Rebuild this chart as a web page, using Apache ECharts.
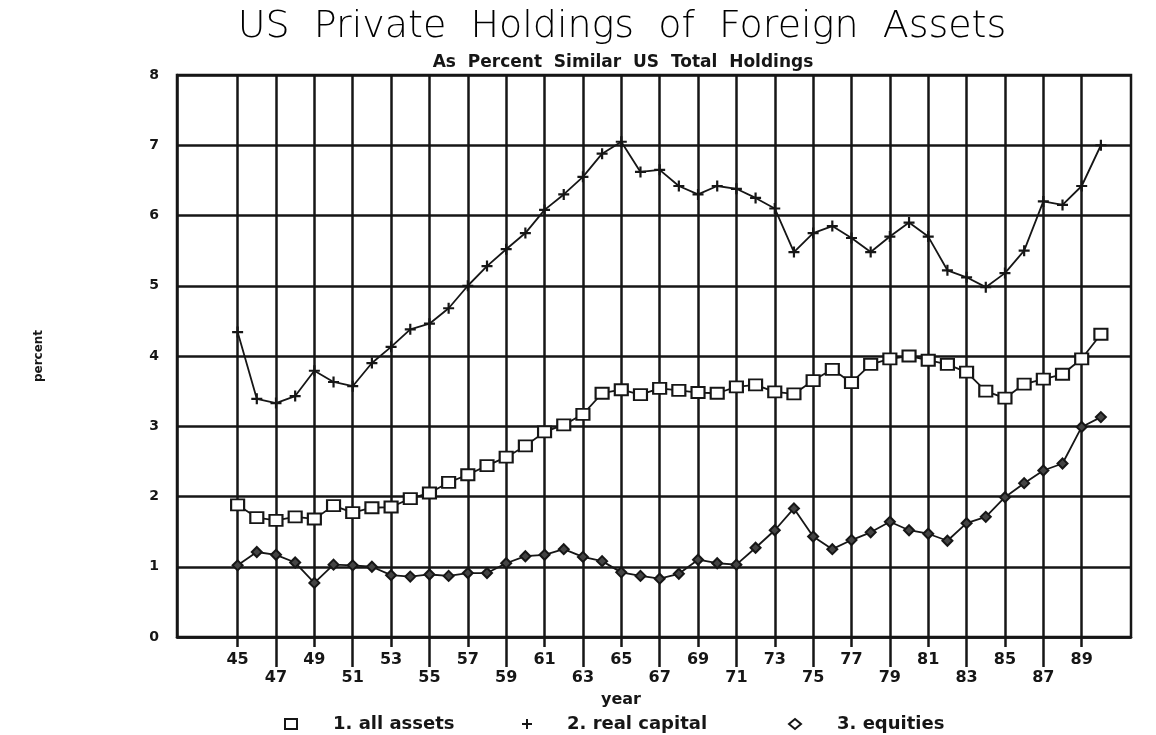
<!DOCTYPE html>
<html lang="en">
<head>
    <meta charset="UTF-8">
    <title>US Private Holdings of Foreign Assets</title>
    <script src="https://cdn.jsdelivr.net/npm/echarts@6/dist/echarts.min.js"></script>
    <style>
        html, body { margin: 0; padding: 0; background: #fff; }
    </style>
</head>
<body>
<div id="main" style="width: 1156px;height:735px;"></div>

<script type="text/javascript">
    // years 1945 .. 1990 (two digits, as on the chart)
    var years = [45, 46, 47, 48, 49, 50, 51, 52, 53, 54, 55, 56, 57, 58, 59,
        60, 61, 62, 63, 64, 65, 66, 67, 68, 69, 70, 71, 72, 73, 74, 75, 76, 77,
        78, 79, 80, 81, 82, 83, 84, 85, 86, 87, 88, 89, 90];

    var allAssets = [1.88, 1.70, 1.66, 1.71, 1.68, 1.87, 1.77, 1.84, 1.85, 1.97,
        2.05, 2.20, 2.31, 2.44, 2.56, 2.72, 2.92, 3.02, 3.17, 3.47, 3.52, 3.45,
        3.54, 3.51, 3.48, 3.47, 3.56, 3.59, 3.49, 3.46, 3.65, 3.81, 3.62, 3.88,
        3.96, 4.00, 3.94, 3.88, 3.77, 3.50, 3.40, 3.60, 3.67, 3.74, 3.96, 4.31];

    var realCapital = [4.34, 3.39, 3.33, 3.43, 3.79, 3.63, 3.57, 3.90, 4.13, 4.38,
        4.46, 4.68, 5.00, 5.28, 5.52, 5.75, 6.08, 6.30, 6.55, 6.88, 7.05, 6.62,
        6.65, 6.42, 6.30, 6.42, 6.38, 6.25, 6.10, 5.48, 5.75, 5.85, 5.68, 5.48,
        5.70, 5.90, 5.70, 5.22, 5.12, 4.98, 5.18, 5.50, 6.20, 6.15, 6.42, 7.00];

    var equities = [1.02, 1.21, 1.17, 1.06, 0.77, 1.03, 1.02, 1.00, 0.88, 0.86,
        0.89, 0.87, 0.91, 0.91, 1.05, 1.15, 1.17, 1.25, 1.14, 1.08, 0.92, 0.87,
        0.83, 0.90, 1.10, 1.05, 1.03, 1.27, 1.52, 1.83, 1.43, 1.25, 1.38, 1.49,
        1.64, 1.52, 1.47, 1.37, 1.62, 1.71, 1.99, 2.19, 2.37, 2.47, 2.99, 3.13];

    // tick labels on the year axis (upper row and lower row alternate)
    var yearTicks = [45, 47, 49, 51, 53, 55, 57, 59, 61, 63, 65, 67, 69, 71, 73,
        75, 77, 79, 81, 83, 85, 87, 89];
    var lowerRowTicks = [47, 51, 55, 59, 63, 67, 71, 75, 79, 83, 87];

    var seriesNames = ['1. all assets', '2. real capital', '3. equities'];

    function pairs(vals) {
        var out = [];
        for (var i = 0; i < years.length; i++) out.push([years[i], vals[i]]);
        return out;
    }

    var ink = '#161616';
    var font = 'DejaVu Sans';
    var plusPath = 'path://M4,0h2v4h4v2h-4v4h-2v-4h-4v-2h4z';

    // one legend per entry so each sits where the original put it
    function legendItem(item, left, gap) {
        return {
            data: [item], left: left, top: 715, padding: 0,
            itemWidth: 12, itemHeight: 10,
            formatter: function (name) { return '{g|}' + name; },
            textStyle: {fontFamily: font, fontSize: 18, fontWeight: 'bold', color: ink,
                rich: {g: {width: gap}}}
        };
    }

    var myChart = echarts.init(document.getElementById('main'));
    var option = {
        backgroundColor: '#fff',
        animation: false,
        title: [
            {
                text: 'US  Private  Holdings  of  Foreign  Assets',
                left: 617, top: 3, textAlign: 'center',
                textStyle: {fontFamily: font, fontSize: 38, fontWeight: 200, color: '#000'}
            },
            {
                text: 'As  Percent  Similar  US  Total  Holdings',
                left: 618, top: 49, textAlign: 'center',
                textStyle: {fontFamily: font, fontSize: 17, fontWeight: 'bold', color: ink}
            }
        ],
        legend: [
            legendItem({name: seriesNames[0], icon: 'rect',
                itemStyle: {color: '#fff', borderColor: ink, borderWidth: 2}}, 284, 31),
            legendItem({name: seriesNames[1], icon: plusPath,
                itemStyle: {color: ink}}, 522, 29),
            legendItem({name: seriesNames[2], icon: 'diamond',
                itemStyle: {color: '#fff', borderColor: ink, borderWidth: 2}}, 788, 31)
        ],
        grid: {
            left: 177, right: 25, top: 75, bottom: 98,
            show: true, borderColor: ink, borderWidth: 2.5
        },
        xAxis: [
            {
                type: 'value', min: 41.84, max: 91.57,
                name: 'year', nameLocation: 'middle', nameGap: 48,
                nameTextStyle: {fontFamily: font, fontSize: 16, fontWeight: 'bold', color: ink,
                    padding: [0, 66, 0, 0]},
                axisLine: {show: true, lineStyle: {color: ink, width: 2.5}},
                axisTick: {show: true, customValues: yearTicks, length: 10,
                    lineStyle: {color: ink, width: 2.5}},
                axisLabel: {
                    customValues: yearTicks, margin: 14,
                    fontFamily: font, fontSize: 16, fontWeight: 'bold', color: ink,
                    lineHeight: 18,
                    formatter: function (v) {
                        return lowerRowTicks.indexOf(v) >= 0 ? '\n' + v : String(v);
                    }
                },
                splitLine: {show: true, lineStyle: {color: ink, width: 2.5}}
            },
            {
                type: 'value', min: 41.84, max: 91.57, position: 'bottom',
                axisLine: {show: false},
                axisTick: {show: true, customValues: lowerRowTicks, length: 30,
                    lineStyle: {color: ink, width: 2.5}},
                axisLabel: {show: false},
                splitLine: {show: false}
            }
        ],
        yAxis: {
            type: 'value', min: 0, max: 8, interval: 1,
            name: 'percent', nameLocation: 'middle', nameGap: 132, nameRotate: 90,
            nameTextStyle: {fontFamily: font, fontSize: 12, fontWeight: 'bold', color: ink},
            axisLine: {show: true, lineStyle: {color: ink, width: 2.5}},
            axisTick: {show: false},
            axisLabel: {margin: 18, fontFamily: font, fontSize: 14, fontWeight: 'bold', color: ink},
            splitLine: {show: true, lineStyle: {color: ink, width: 2.5}}
        },
        series: [
            {
                name: seriesNames[0], type: 'line', data: pairs(allAssets),
                symbol: 'rect', symbolSize: [13, 11],
                lineStyle: {color: ink, width: 1.8},
                itemStyle: {color: '#fff', borderColor: ink, borderWidth: 2}
            },
            {
                name: seriesNames[1], type: 'line', data: pairs(realCapital),
                symbol: plusPath, symbolSize: 11,
                lineStyle: {color: ink, width: 1.8},
                itemStyle: {color: ink}
            },
            {
                name: seriesNames[2], type: 'line', data: pairs(equities),
                symbol: 'diamond', symbolSize: 10,
                lineStyle: {color: ink, width: 1.8},
                itemStyle: {color: '#444', borderColor: ink, borderWidth: 2}
            }
        ]
    };
    myChart.setOption(option);
</script>
</body>
</html>
